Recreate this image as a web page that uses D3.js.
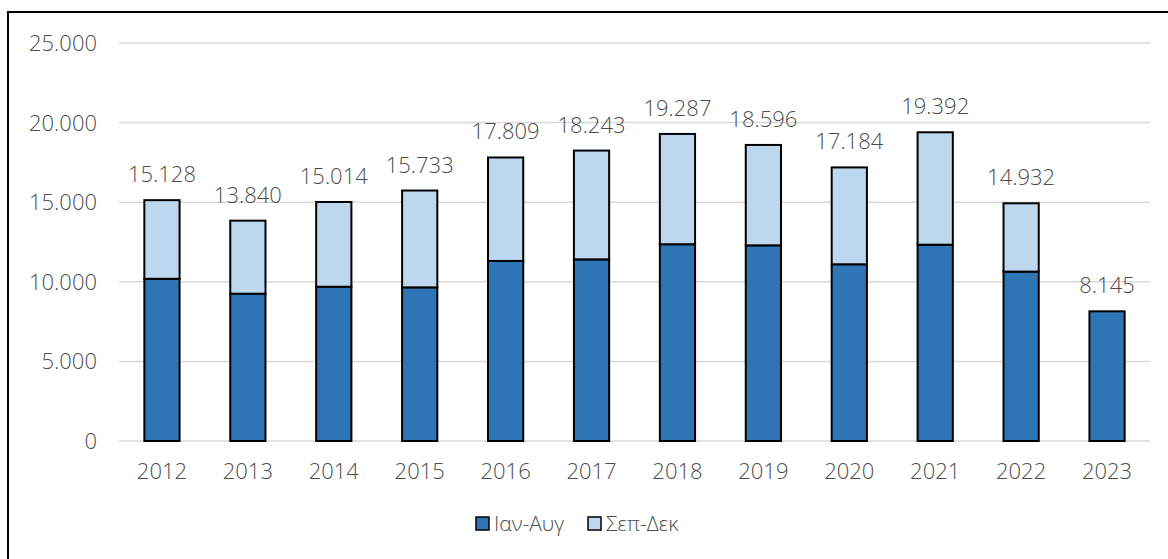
<!DOCTYPE html>
<meta charset="utf-8">
<style>
body { margin: 0; background: #fff; }
svg text { font-family: "Open Sans", sans-serif; font-weight: 300; fill: #4d4d4d; }
.grid line { stroke: #d9d9d9; stroke-width: 1.5px; }
.bar { stroke: #000; stroke-width: 2px; }
</style>
<body>
<svg width=1168 height=559></svg>
</body>
<script src="https://d3js.org/d3.v7.min.js"></script>
<script>
const years = ["2012", "2013", "2014", "2015", "2016", "2017", "2018", "2019", "2020", "2021", "2022", "2023"]
const janAug = [10190, 9250, 9690, 9650, 11310, 11410, 12360, 12290, 11100, 12330, 10640, 8145]
const sepDec = [4938, 4590, 5324, 6083, 6499, 6833, 6927, 6306, 6084, 7062, 4292, 0]
const yTicks = [0, 5000, 10000, 15000, 20000, 25000]
const seriesNames = ["Ιαν-Αυγ", "Σεπ-Δεκ"]
const colors = ["#2e75b6", "#bdd7ee"]

const svg = d3.select("svg")

// outer frame (right and bottom edges fall outside the picture)
svg.append("rect")
  .attr("x", 8).attr("y", 12)
  .attr("width", 1200).attr("height", 600)
  .attr("fill", "none").attr("stroke", "#000").attr("stroke-width", 2)

const x = d3.scaleBand().domain(years).range([119, 1150]).paddingInner(0.59).paddingOuter(0.295)
const y = d3.scaleLinear().domain([0, 25000]).range([441, 43])

const fmt = d3.formatLocale({decimal: ",", thousands: ".", grouping: [3], currency: ["", "€"]}).format(",")

svg.append("g").attr("class", "grid")
  .selectAll("line").data(yTicks).enter().append("line")
    .attr("x1", 119).attr("x2", 1150)
    .attr("y1", d => y(d)).attr("y2", d => y(d))

svg.append("g").selectAll("text").data(yTicks).enter().append("text")
  .attr("x", 97).attr("y", d => y(d)).attr("dy", "0.36em")
  .attr("text-anchor", "end").attr("font-size", 22)
  .text(d => fmt(d))

svg.append("g").selectAll("text").data(years).enter().append("text")
  .attr("x", d => x(d) + x.bandwidth() / 2).attr("y", 479)
  .attr("text-anchor", "middle").attr("font-size", 22)
  .text(d => d)

const rows = years.map((yr, i) => ({year: yr, a: janAug[i], b: sepDec[i]}))
const stack = d3.stack().keys(["a", "b"])(rows)

svg.append("g").selectAll("g").data(stack).enter().append("g")
  .attr("fill", (d, i) => colors[i])
  .selectAll("rect").data(d => d.filter(p => p[1] > p[0])).enter().append("rect")
    .attr("class", "bar")
    .attr("x", d => x(d.data.year))
    .attr("width", x.bandwidth())
    .attr("y", d => y(d[1]))
    .attr("height", d => y(d[0]) - y(d[1]))

svg.append("g").selectAll("text").data(rows).enter().append("text")
  .attr("x", d => x(d.year) + x.bandwidth() / 2)
  .attr("y", d => y(d.a + d.b) - 18)
  .attr("text-anchor", "middle").attr("font-size", 22)
  .text(d => fmt(d.a + d.b))

// legend
const legend = svg.append("g")
const lx = [476, 588]
seriesNames.forEach((name, i) => {
  legend.append("rect")
    .attr("x", lx[i]).attr("y", 517).attr("width", 13).attr("height", 13)
    .attr("fill", colors[i]).attr("stroke", "#000").attr("stroke-width", 1.5)
  legend.append("text")
    .attr("x", lx[i] + 18).attr("y", 531)
    .attr("font-size", 21)
    .text(name)
})
</script>
